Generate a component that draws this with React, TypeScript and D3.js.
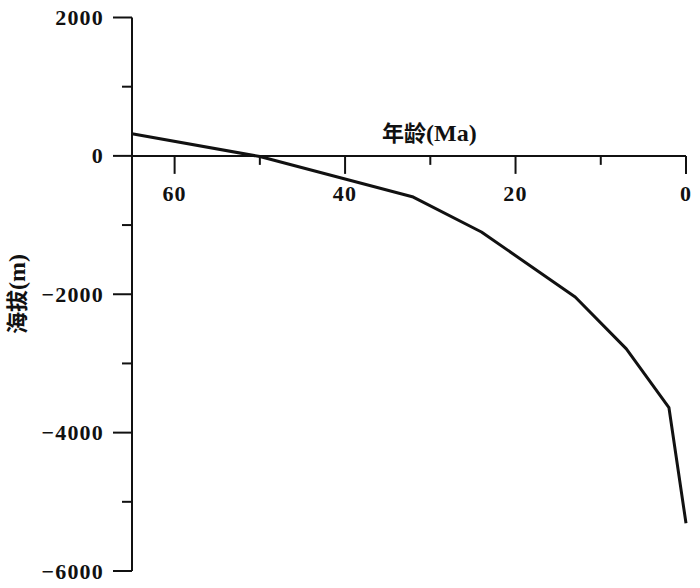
import React from "react";
import * as d3 from "d3";

const ages = [65, 50, 32, 24, 13, 7, 2, 0];
const elevations = [320, -10, -595, -1100, -2040, -2790, -3640, -5310];
const xMajorTicks = [60, 40, 20, 0];
const xMinorTicks = [50, 30, 10];
const yMajorTicks = [2000, 0, -2000, -4000, -6000];
const yMinorTicks = [1000, -1000, -3000, -5000];
const xTitleCjk = "年龄";
const xTitleUnit = "(Ma)";
const yTitleCjk = "海拔";
const yTitleUnit = "(m)";

const W = 700;
const H = 588;
const SERIF = "Liberation Serif, Times New Roman, DejaVu Serif, serif";
const CJK = "Noto Sans CJK SC, Liberation Serif, serif";

export default function App() {
  const x = d3.scaleLinear().domain([65, 0]).range([132, 686]);
  const y = d3.scaleLinear().domain([-6000, 2000]).range([571, 17.5]);
  const pts: [number, number][] = ages.map((a, i) => [a, elevations[i]]);
  const line = d3
    .line<[number, number]>()
    .x((d) => x(d[0]))
    .y((d) => y(d[1]));
  const y0 = y(0);
  const fmt = (v: number) => (v < 0 ? "\u2212" + Math.abs(v) : String(v));
  return (
    <svg
      width={W}
      height={H}
      style={{ position: "absolute", left: 0, top: 0, background: "#fff" }}
    >
      {/* Y axis */}
      <line x1={x(65)} x2={x(65)} y1={y(2000)} y2={y(-6000)} stroke="#111" strokeWidth={2} />
      {yMajorTicks.map((t) => (
        <g key={"ym" + t}>
          <line x1={x(65) - 19} x2={x(65)} y1={y(t)} y2={y(t)} stroke="#111" strokeWidth={2} />
          <text
            x={104}
            y={y(t) + 7.5}
            textAnchor="end"
            fontFamily={SERIF}
            fontWeight="bold"
            fontSize={22}
            letterSpacing={1.2}
            fill="#111"
          >
            {fmt(t)}
          </text>
        </g>
      ))}
      {yMinorTicks.map((t) => (
        <line key={"yn" + t} x1={x(65) - 10} x2={x(65)} y1={y(t)} y2={y(t)} stroke="#111" strokeWidth={2} />
      ))}
      {/* X axis */}
      <line x1={x(65)} x2={x(0)} y1={y0} y2={y0} stroke="#111" strokeWidth={2} />
      {xMajorTicks.map((t) => (
        <g key={"xm" + t}>
          <line x1={x(t)} x2={x(t)} y1={y0} y2={y0 + 18} stroke="#111" strokeWidth={2} />
          <text
            x={x(t)}
            y={200.5}
            textAnchor="middle"
            fontFamily={SERIF}
            fontWeight="bold"
            fontSize={22}
            letterSpacing={1.2}
            fill="#111"
          >
            {fmt(t)}
          </text>
        </g>
      ))}
      {xMinorTicks.map((t) => (
        <line key={"xn" + t} x1={x(t)} x2={x(t)} y1={y0} y2={y0 + 9} stroke="#111" strokeWidth={2} />
      ))}
      {/* titles */}
      <text x={382} y={141} fontFamily={CJK} fontWeight="bold" fontSize={22} fill="#111">
        {xTitleCjk}
        <tspan fontFamily={SERIF} fontSize={24}>{xTitleUnit}</tspan>
      </text>
      <text
        transform={`translate(25, 294) rotate(-90)`}
        textAnchor="middle"
        fontFamily={CJK}
        fontWeight="bold"
        fontSize={22}
        fill="#111"
      >
        {yTitleCjk}
        <tspan fontFamily={SERIF} fontSize={24}>{yTitleUnit}</tspan>
      </text>
      {/* data line */}
      <path d={line(pts) || ""} fill="none" stroke="#111" strokeWidth={3} strokeLinejoin="round" />
    </svg>
  );
}
